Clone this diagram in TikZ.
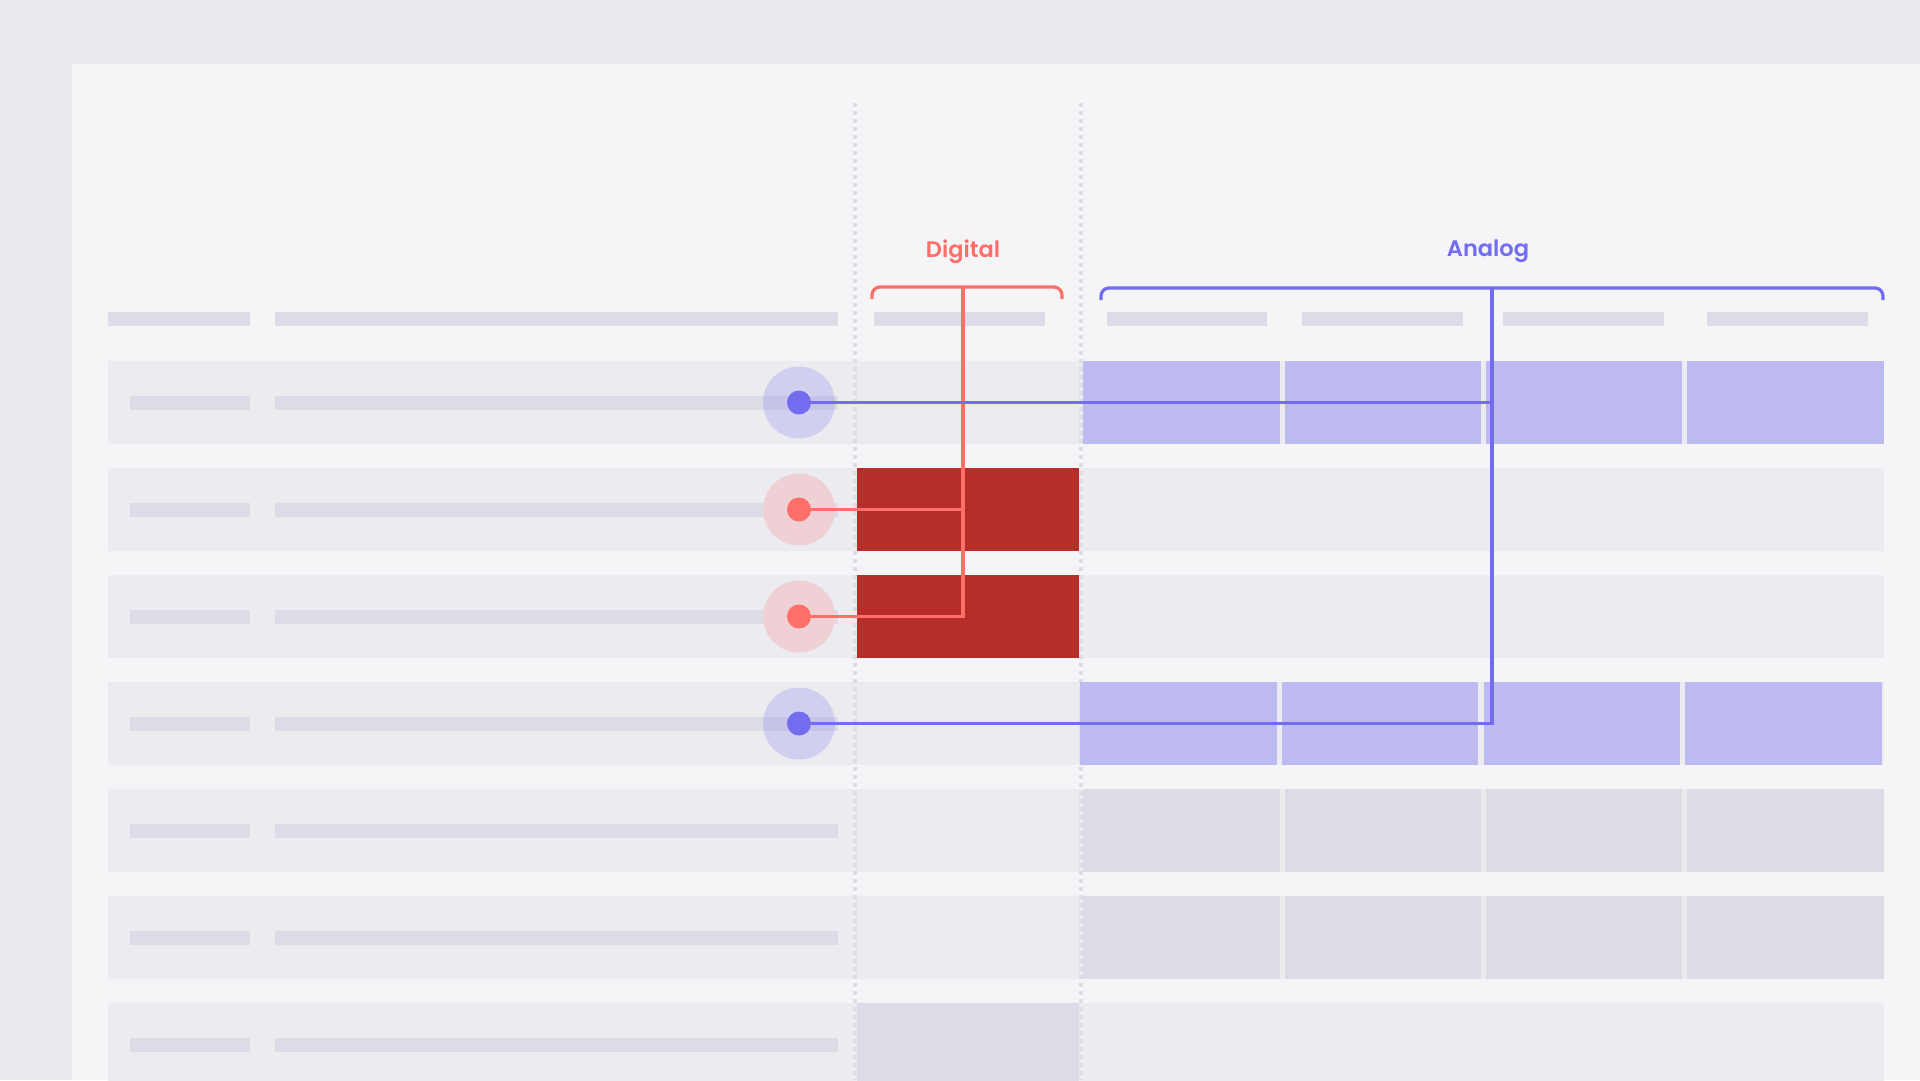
\documentclass[tikz,border=0pt]{standalone}
\usepackage{fontspec}
\newfontfamily\labfont{Poppins}[UprightFont={* SemiBold}]
\definecolor{outerbg}{HTML}{EBEAEF}
\definecolor{panelbg}{HTML}{F5F5F7}
\definecolor{rowbg}{HTML}{EBEBF0}
\definecolor{barc}{HTML}{DCDCE7}
\definecolor{purplecell}{HTML}{BDBAF2}
\definecolor{bluec}{HTML}{736CEF}
\definecolor{redc}{HTML}{FF6F69}
\definecolor{darkred}{HTML}{B52E2A}
\definecolor{redhalo}{HTML}{EFD0D5}
\tikzset{
  bar/.style={fill=barc},
  rowbox/.style={fill=rowbg},
  pcell/.style={fill=purplecell},
  gcell/.style={fill=barc},
  rcell/.style={fill=darkred},
  guide/.style={draw=barc, line width=4pt, dash pattern=on 4pt off 4pt},
  redline/.style={draw=redc, line width=3.2pt},
  blueline/.style={draw=bluec, line width=3.2pt},
  dotnode/.style={circle, inner sep=0pt, minimum size=24pt},
  bluehalo/.style={fill=bluec, opacity=0.22},
  redhalostyle/.style={fill=redhalo},
  lab/.style={font=\labfont\fontsize{22.5}{28}\selectfont, inner sep=0pt}
}
\begin{document}
\begin{tikzpicture}[x=1pt,y=-1pt]
\useasboundingbox (0,0) rectangle (1920,1080);
\fill[outerbg] (0,0) rectangle (1920,1080);
\fill[panelbg] (72,64) rectangle (1920,1080);
% header bars
\foreach \a/\b in {108/250,275/838,874/1045,1107/1267,1302/1463,1503/1664,1707/1868}
  \fill[bar] (\a,312) rectangle (\b,326);
% rows
\foreach \i in {0,...,6}{
  \pgfmathsetmacro{\yt}{361+107*\i}
  \pgfmathsetmacro{\yb}{444+107*\i}
  \pgfmathsetmacro{\yc}{402.5+107*\i}
  \fill[rowbox] (108,\yt) rectangle (1884,\yb);
  \fill[bar] (130,\yc-7) rectangle (250,\yc+7);
  \fill[bar] (275,\yc-7) rectangle (838,\yc+7);
}
% guides
\draw[guide] (855,103) -- (855,1080);
\draw[guide] (1081,103) -- (1081,1080);
% purple cells row 1
\foreach \a/\b in {1083/1280,1285/1481,1486/1682,1687/1884}
  \fill[pcell] (\a,361) rectangle (\b,444);
% purple cells row 4
\foreach \a/\b in {1080/1277,1282/1478,1484/1680,1685/1882}
  \fill[pcell] (\a,682) rectangle (\b,765);
% gray cells rows 5,6
\foreach \a/\b in {1083/1280,1285/1481,1486/1682,1687/1884}{
  \fill[gcell] (\a,789) rectangle (\b,872);
  \fill[gcell] (\a,896) rectangle (\b,979);
}
\fill[gcell] (857,1003) rectangle (1079,1086);
% red cells
\fill[rcell] (857,468) rectangle (1079,551);
\fill[rcell] (857,575) rectangle (1079,658);
% halos
\fill[bluehalo] (799,402.5) circle (36);
\fill[redhalostyle] (799,509.5) circle (36);
\fill[redhalostyle] (799,616.5) circle (36);
\fill[bluehalo] (799,723.5) circle (36);
% labels
\node[lab, text=redc] (digital) at (963,251.5) {Digital};
\node[lab, text=bluec] (analog) at (1488,251.5) {Analog};
% brackets
\coordinate (dtop) at (963,287);
\coordinate (atop) at (1492,288);
\draw[redline, rounded corners=8pt] (872,299) -- (872,287) -- (1062,287) -- (1062,299);
\draw[blueline, rounded corners=8pt] (1101,300) -- (1101,288) -- (1883,288) -- (1883,300);
% dots
\node[dotnode] (b1) at (799,402.5) {};
\node[dotnode] (r2) at (799,509.5) {};
\node[dotnode] (r3) at (799,616.5) {};
\node[dotnode] (b4) at (799,723.5) {};
% connectors
\draw[redline] (dtop) -- (dtop |- r3.center) -- (r3.center);
\draw[redline] (r2.center) -- (r2.center -| dtop);
\draw[blueline] (atop) -- (atop |- b4.center) -- (b4.center);
\draw[blueline] (b1.center) -- (b1.center -| atop);
\fill[bluec] (b1) circle (12);
\fill[bluec] (b4) circle (12);
\fill[redc] (r2) circle (12);
\fill[redc] (r3) circle (12);
\end{tikzpicture}
\end{document}
